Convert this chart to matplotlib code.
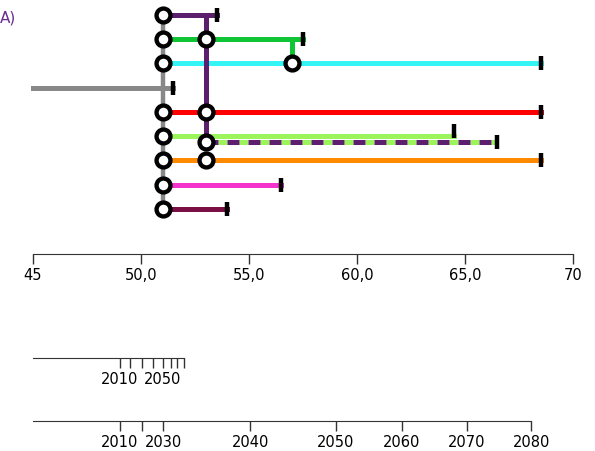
import matplotlib.pyplot as plt

# ветви дерева: строка, начало, конец, цвет
rows = [0, 1, 2, 3, 4, 5, 6, 7, 8]
starts = [51.0, 51.0, 51.0, 45.0, 51.0, 51.0, 51.0, 51.0, 51.0]
ends = [53.5, 57.5, 68.5, 51.5, 68.5, 64.5, 68.5, 56.5, 54.0]
colors = ['#5c1f6e', '#10c535', '#33f5f5', '#888888', '#ff0000',
          '#9bf55a', '#ff8a00', '#f533cc', '#7a0f45']

spine_x = 51.0      # серая ось
branch_x = 53.0     # фиолетовая ветвь
branch_rows = [1, 4, 5.25, 6]
dash_row, dash_end = 5.25, 66.5
green_x = 57.0      # зелёное ответвление к голубой линии

# шкалы
age_ticks = [45, 50, 55, 60, 65, 70]
age_labels = ['45', '50,0', '55,0', '60,0', '65,0', '70']
years = [2010, 2020, 2030, 2040, 2050, 2060, 2070, 2080]
years_pos_a = [49.03, 49.49, 50.05, 50.56, 51.02, 51.39, 51.67, 51.99]
years_lbl_a = ['2010', '', '', '', '2050', '', '', '']
years_pos_b = [49.03, 50.05, 51.02, 55.05, 59.03, 62.08, 65.09, 68.06]
years_lbl_b = ['2010', '', '2030', '2040', '2050', '2060', '2070', '2080']

W, H = 595, 451
px = 21.6                       # пикселей на единицу
x0 = 45 - 33 / px
x1 = 45 + (W - 33) / px
dy = 24.25

fig = plt.figure(figsize=(W / 100, H / 100), dpi=100)
ax = fig.add_axes([0, 0, 1, 1])
ax.set_xlim(x0, x1)
ax.set_ylim((H - 15) / dy, -15 / dy)
ax.axis('off')

lw = 3.6
ax.plot([spine_x, spine_x], [0, 8], color='#888888', lw=3.2, zorder=1)
for r, s, e, c in zip(rows, starts, ends, colors):
    ax.plot([s, e], [r, r], color=c, lw=lw, zorder=2)
ax.plot([green_x, green_x], [1, 2], color=colors[1], lw=lw, zorder=2)
ax.plot([branch_x, branch_x], [0, dash_row], color=colors[0], lw=lw, zorder=3)
ln, = ax.plot([branch_x, dash_end], [dash_row, dash_row], color=colors[0],
              lw=lw, gapcolor=colors[5], zorder=3)
ln.set_dashes((2.4, 1.8))

# концы ветвей
ends_x = ends + [dash_end]
ends_y = rows + [dash_row]
ends_y[5] = 4.8
ax.plot(ends_x, ends_y, ls='none', marker='|', ms=10.5, mew=3.2,
        color='black', zorder=4)

# узлы
node_x = [spine_x for r in rows if r != 3] + [branch_x] * len(branch_rows) + [green_x]
node_y = [r for r in rows if r != 3] + branch_rows + [2]
ax.plot(node_x, node_y, ls='none', marker='o', ms=10, mew=3.1, mfc='white',
        mec='black', zorder=5)

fig.text(0.0, 1 - 18 / H, 'A)', color='#6b2d8f', fontsize=11,
         ha='left', va='center')


def scale(y_px, lo, hi, ticks, labels):
    s = fig.add_axes([0, 1 - y_px / H, 1, 0.0001])
    s.set_xlim(x0, x1)
    s.patch.set_visible(False)
    for side in ('top', 'left', 'right'):
        s.spines[side].set_visible(False)
    s.spines['bottom'].set_bounds(lo, hi)
    s.spines['bottom'].set_color('#333333')
    s.set_yticks([])
    s.set_xticks(ticks)
    s.set_xticklabels(labels)
    s.tick_params(axis='x', length=7, width=1, color='#333333',
                  labelsize=10.5, pad=3)
    return s


scale(254, 45, 70, age_ticks, age_labels)
scale(358, 45, years_pos_a[-1], years_pos_a, years_lbl_a)
scale(421, 45, years_pos_b[-1], years_pos_b, years_lbl_b)

fig.savefig('out.png', dpi=100)
